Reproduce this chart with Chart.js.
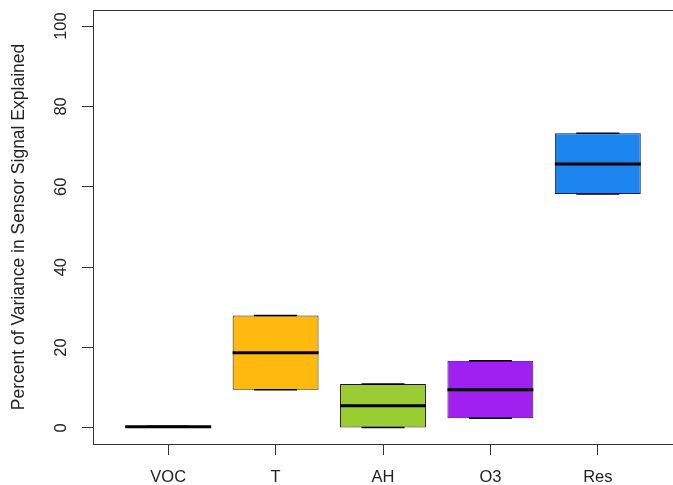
<!DOCTYPE html>
<html>
<head>
<meta charset="utf-8">
<script src="https://cdn.jsdelivr.net/npm/chart.js@4.4.1/dist/chart.umd.min.js"></script>
<style>
  html, body { margin: 0; padding: 0; background: #fff; }
  #wrap { width: 673px; height: 485px; position: relative; }
</style>
</head>
<body>
<div id="wrap"><canvas id="box-chart"></canvas></div>
<script>
// values
var categories = ['VOC', 'T', 'AH', 'O3', 'Res'];
var boxLow = [0.2, 9.5, 0.1, 2.4, 58.2];
var boxHigh = [0.4, 28.0, 10.9, 16.7, 73.3];
var medians = [0.3, 18.7, 5.5, 9.5, 65.7];
var boxColors = ['#ffffff', '#FFB90F', '#9ACD32', '#A020F0', '#1C86EE'];
var yTicks = [0, 20, 40, 60, 80, 100];

var FONT = '"Liberation Sans", Arial, Helvetica, sans-serif';
var INK = '#222';

// median bars, whisker staples and the box frame round the plot
var boxExtras = {
    id: 'boxExtras',
    afterDatasetsDraw: function (chart) {
        var ctx = chart.ctx;
        var y = chart.scales.y;
        var meta = chart.getDatasetMeta(0);
        ctx.save();
        ctx.strokeStyle = '#000';
        meta.data.forEach(function (bar, i) {
            var half = bar.width / 2;
            // staples at whisker ends (same as box edges here)
            ctx.lineWidth = 1.5;
            [boxLow[i], boxHigh[i]].forEach(function (v) {
                var py = y.getPixelForValue(v);
                ctx.beginPath();
                ctx.moveTo(bar.x - half / 2, py);
                ctx.lineTo(bar.x + half / 2, py);
                ctx.stroke();
            });
            ctx.lineWidth = 3;
            var my = y.getPixelForValue(medians[i]);
            ctx.beginPath();
            ctx.moveTo(bar.x - half, my);
            ctx.lineTo(bar.x + half, my);
            ctx.stroke();
        });
        ctx.restore();
    },
    afterDraw: function (chart) {
        var a = chart.chartArea;
        var ctx = chart.ctx;
        ctx.save();
        ctx.strokeStyle = '#333';
        ctx.lineWidth = 1;
        ctx.strokeRect(a.left + 0.5, a.top + 0.5, a.right - a.left, a.bottom - a.top);
        ctx.restore();
    }
};

new Chart(document.getElementById('box-chart').getContext('2d'), {
    type: 'bar',
    data: {
        datasets: [{
            data: categories.map(function (c, i) { return { x: i, y: [boxLow[i], boxHigh[i]] }; }),
            backgroundColor: boxColors,
            borderColor: 'rgba(0,0,0,0.9)',
            borderWidth: 1,
            borderSkipped: false,
            barPercentage: 0.8,
            categoryPercentage: 1
        }]
    },
    options: {
        responsive: true,
        maintainAspectRatio: false,
        animation: false,
        layout: { padding: { top: 10, right: -4, bottom: 0, left: 0 } },
        plugins: {
            legend: { display: false },
            tooltip: { enabled: false }
        },
        scales: {
            x: {
                type: 'linear',
                min: -0.7,
                max: 4.7,
                offset: false,
                afterBuildTicks: function (s) {
                    s.ticks = categories.map(function (c, i) { return { value: i }; });
                },
                afterFit: function (s) { s.height = 41; s.paddingLeft = 0; s.paddingRight = 0; },
                border: { display: false },
                grid: { offset: false, drawOnChartArea: false, drawTicks: true, tickLength: 11, tickWidth: 1, tickColor: '#333', color: '#333' },
                ticks: {
                    color: INK,
                    font: { family: FONT, size: 16.5 },
                    padding: 13,
                    maxRotation: 0,
                    autoSkip: false,
                    callback: function (v) { return categories[v]; }
                }
            },
            y: {
                min: -4,
                max: 104,
                afterBuildTicks: function (s) {
                    s.ticks = yTicks.map(function (v) { return { value: v }; });
                },
                afterFit: function (s) { s.width = 93; s.paddingTop = 0; s.paddingBottom = 0; },
                border: { display: false },
                grid: { drawOnChartArea: false, drawTicks: true, tickLength: 11, tickWidth: 1, tickColor: '#333', color: '#333' },
                ticks: {
                    color: INK,
                    font: { family: FONT, size: 16.5 },
                    minRotation: 90,
                    maxRotation: 90,
                    crossAlign: 'center',
                    padding: 6.9
                },
                title: {
                    display: true,
                    text: 'Percent of Variance in Sensor Signal Explained',
                    color: INK,
                    font: { family: FONT, size: 17.5 },
                    padding: { top: 8.7, bottom: 0 }
                }
            }
        }
    },
    plugins: [boxExtras]
});
</script>
</body>
</html>
